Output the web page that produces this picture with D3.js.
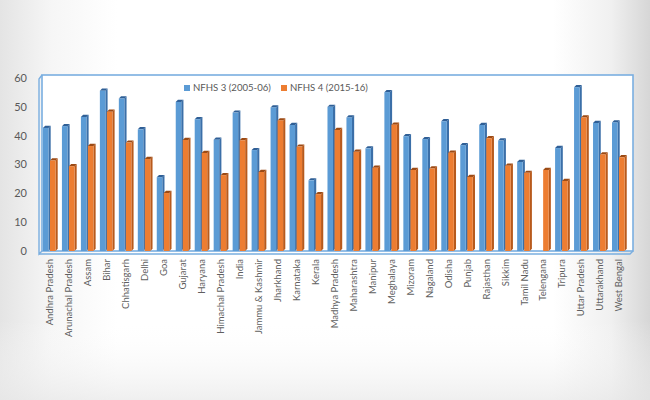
<!DOCTYPE html>
<html><head><meta charset="utf-8">
<script src="https://cdn.jsdelivr.net/npm/d3@7"></script>
<style>html,body{margin:0;padding:0;overflow:hidden;}svg{display:block;}</style>
</head><body>
<script>
const categories = ["Andhra Pradesh","Arunachal Pradesh","Assam","Bihar","Chhatisgarh","Delhi","Goa","Gujarat","Haryana","Himachal Pradesh","India","Jammu & Kashmir","Jharkhand","Karnataka","Kerala","Madhya Pradesh","Maharashtra","Manipur","Meghalaya","Mizoram","Nagaland","Odisha","Punjab","Rajasthan","Sikkim","Tamil Nadu","Telengana","Tripura","Uttar Pradesh","Uttarakhand","West Bengal"];
const nfhs3 = [42.7,43.3,46.5,55.6,52.9,42.2,25.6,51.7,45.7,38.6,48.0,35.0,49.8,43.7,24.5,50.0,46.3,35.6,55.1,39.8,38.8,45.0,36.7,43.7,38.3,30.9,null,35.7,56.8,44.4,44.6];
const nfhs4 = [31.4,29.4,36.4,48.3,37.6,31.9,20.1,38.5,34.0,26.3,38.4,27.4,45.3,36.2,19.7,42.0,34.4,28.9,43.8,28.1,28.6,34.1,25.7,39.1,29.6,27.1,28.1,24.3,46.3,33.5,32.5];
const seriesNames = ["NFHS 3 (2005-06)","NFHS 4 (2015-16)"];
const yTicks = [0,10,20,30,40,50,60];

const W=650,H=400;
const svg=d3.select("body").append("svg").attr("width",W).attr("height",H);
const defs=svg.append("defs");
const bg=defs.append("linearGradient").attr("id","bg").attr("x1","0").attr("x2","1").attr("y1","0").attr("y2","0");
[[0,"#e4e4e4"],[0.08,"#f6f6f6"],[0.18,"#ffffff"],[0.85,"#ffffff"],[0.94,"#f0f0f0"],[1,"#d6d6d6"]].forEach(s=>bg.append("stop").attr("offset",s[0]).attr("stop-color",s[1]));
svg.append("rect").attr("width",W).attr("height",H).attr("fill","url(#bg)");
const bg2=defs.append("linearGradient").attr("id","bg2").attr("x1","0").attr("x2","0").attr("y1","0").attr("y2","1");
[[0,"#ffffff",0],[0.8,"#ffffff",0],[1,"#e8e8e8",0.7]].forEach(s=>bg2.append("stop").attr("offset",s[0]).attr("stop-color",s[1]).attr("stop-opacity",s[2]));
svg.append("rect").attr("width",W).attr("height",H).attr("fill","url(#bg2)");

const pLeft=42,pRight=633,pTop=75,pBottom=251;
const y=d3.scaleLinear().domain([0,60]).range([pBottom,78]);
const x=d3.scaleBand().domain(categories).range([40.5,628.5]).paddingInner(0.26).paddingOuter(0.13);
const xs=d3.scaleBand().domain([0,1]).range([0,x.bandwidth()]).padding(0);

// plot frame
svg.append("rect").attr("x",pLeft).attr("y",pTop).attr("width",pRight-pLeft).attr("height",pBottom-pTop)
  .attr("fill","#ffffff").attr("stroke","#7aaee0").attr("stroke-width",1.6);
svg.append("path").attr("d",`M${pLeft},${pTop} L${pLeft-3},${pTop+4} L${pLeft-3},${pBottom+3} L${pLeft},${pBottom}`)
  .attr("fill","none").attr("stroke","#7aaee0").attr("stroke-width",1.4);
svg.append("path").attr("d",`M${pLeft-3},${pBottom+3} L${pRight-3},${pBottom+3} L${pRight},${pBottom}`)
  .attr("fill","none").attr("stroke","#7aaee0").attr("stroke-width",1.4);

// y axis labels
svg.append("g").selectAll("text").data(yTicks).join("text")
  .attr("x",27).attr("y",d=>y(d)).attr("dy","0.35em").attr("text-anchor","end")
  .attr("font-family","Lato, 'Open Sans', sans-serif").attr("font-size",11).attr("fill","#595959")
  .text(d=>d);

const colors=[{front:"#5b9bd5",side:"#3b6fa8",top:"#2f5f96"},{front:"#ed7d31",side:"#b85a1c",top:"#9c4a14"}];
const dep=2.2;
const bars=[];
categories.forEach((c,i)=>{
  [nfhs3[i],nfhs4[i]].forEach((v,s)=>{ if(v!=null) bars.push({c,s,v}); });
});
const g=svg.append("g");
const bw=xs.bandwidth()-1.5;
bars.forEach(b=>{
  const x0=x(b.c)+xs(b.s), yt=y(b.v), c=colors[b.s];
  g.append("path").attr("d",`M${x0+bw},${pBottom} L${x0+bw},${yt} L${x0+bw+dep},${yt-dep} L${x0+bw+dep},${pBottom-dep} Z`).attr("fill",c.side);
  g.append("path").attr("d",`M${x0},${yt} L${x0+dep},${yt-dep} L${x0+bw+dep},${yt-dep} L${x0+bw},${yt} Z`).attr("fill",c.top);
  g.append("rect").attr("x",x0).attr("y",yt).attr("width",bw).attr("height",pBottom-yt).attr("fill",c.front);
});

// x labels
svg.append("g").selectAll("text").data(categories).join("text")
  .attr("transform",d=>`translate(${x(d)+x.bandwidth()/2},259) rotate(-90)`)
  .attr("dy","0.35em").attr("text-anchor","end")
  .attr("font-family","Lato, 'Open Sans', sans-serif").attr("font-size",9.5).attr("fill","#5f5f5f")
  .text(d=>d);

// legend
const leg=svg.append("g").attr("font-family","Lato, 'Open Sans', sans-serif").attr("font-size",9.6).attr("fill","#595959");
const legX=[184,281];
seriesNames.forEach((n,i)=>{
  leg.append("rect").attr("x",legX[i]).attr("y",85).attr("width",6).attr("height",6).attr("fill",colors[i].front);
  leg.append("text").attr("x",legX[i]+9).attr("y",88).attr("dy","0.35em").text(n);
});
</script>
</body></html>
